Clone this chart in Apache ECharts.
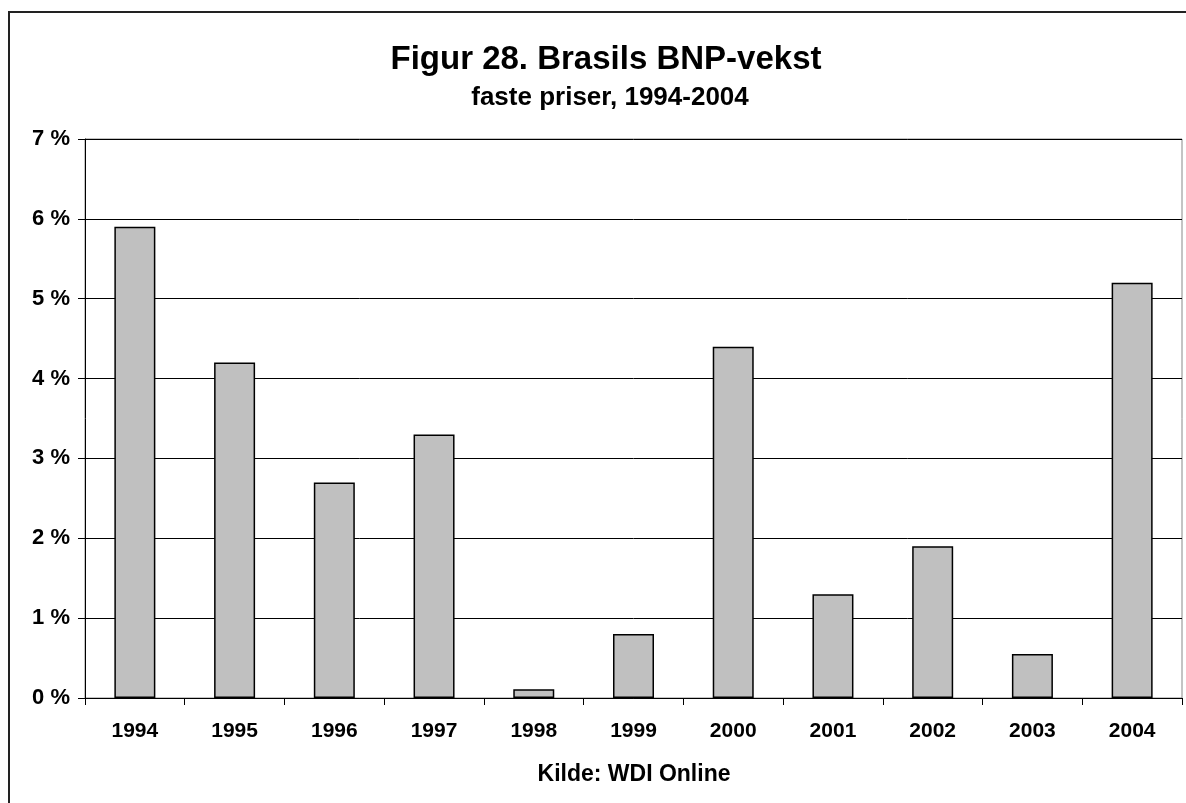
<!DOCTYPE html>
<html>
<head>
<meta charset="utf-8">
<script src="https://cdn.jsdelivr.net/npm/echarts@6/dist/echarts.min.js"></script>
<style>
  html, body { margin: 0; padding: 0; background: #fff; }
  #main { width: 1186px; height: 803px; }
</style>
</head>
<body>
<div id="main"></div>
<script>
var years = ['1994', '1995', '1996', '1997', '1998', '1999', '2000', '2001', '2002', '2003', '2004'];
var growth = [5.9, 4.2, 2.7, 3.3, 0.11, 0.8, 4.4, 1.3, 1.9, 0.55, 5.2];
var yTicks = [0, 1, 2, 3, 4, 5, 6, 7];

var font = 'Liberation Sans, Arial, sans-serif';
var myChart = echarts.init(document.getElementById('main'));

var option = {
    animation: false,
    backgroundColor: '#fff',
    textStyle: { fontFamily: font },
    title: [{
        text: 'Figur 28. Brasils BNP-vekst',
        left: 601,
        top: 38,
        textAlign: 'center',
        textStyle: { fontSize: 33, fontWeight: 'bold', color: '#000', fontFamily: font }
    }, {
        text: 'faste priser, 1994-2004',
        left: 605,
        top: 80,
        textAlign: 'center',
        textStyle: { fontSize: 26, fontWeight: 'bold', color: '#000', fontFamily: font }
    }, {
        text: 'Kilde: WDI Online',
        left: 629,
        top: 758,
        textAlign: 'center',
        textStyle: { fontSize: 23, fontWeight: 'bold', color: '#000', fontFamily: font }
    }],
    graphic: [{
        type: 'rect',
        shape: { x: 9, y: 12, width: 1200, height: 820 },
        style: { fill: 'none', stroke: '#222', lineWidth: 2 },
        silent: true
    }],
    grid: {
        left: 85,
        right: 4,
        top: 139,
        bottom: 105,
        show: true,
        borderColor: '#888',
        borderWidth: 1
    },
    xAxis: {
        type: 'category',
        data: years,
        axisLine: { lineStyle: { color: '#000', width: 1 } },
        axisTick: { show: true, length: 7, lineStyle: { color: '#000' } },
        axisLabel: {
            interval: 0,
            margin: 23,
            fontSize: 21,
            fontWeight: 'bold',
            color: '#000',
            fontFamily: font
        }
    },
    yAxis: {
        type: 'value',
        min: yTicks[0],
        max: yTicks[yTicks.length - 1],
        interval: 1,
        axisLine: { show: true, lineStyle: { color: '#000', width: 1 } },
        axisTick: { show: true, length: 7, lineStyle: { color: '#000' } },
        splitLine: { show: true, lineStyle: { color: '#000', width: 1 } },
        axisLabel: {
            margin: 15,
            fontSize: 22,
            fontWeight: 'bold',
            color: '#000',
            fontFamily: font,
            formatter: function (v) { return v + ' %'; }
        }
    },
    series: [{
        type: 'bar',
        data: growth,
        barWidth: 41,
        itemStyle: {
            color: '#c0c0c0',
            borderColor: '#000',
            borderWidth: 1.5
        }
    }]
};
myChart.setOption(option);
</script>
</body>
</html>
